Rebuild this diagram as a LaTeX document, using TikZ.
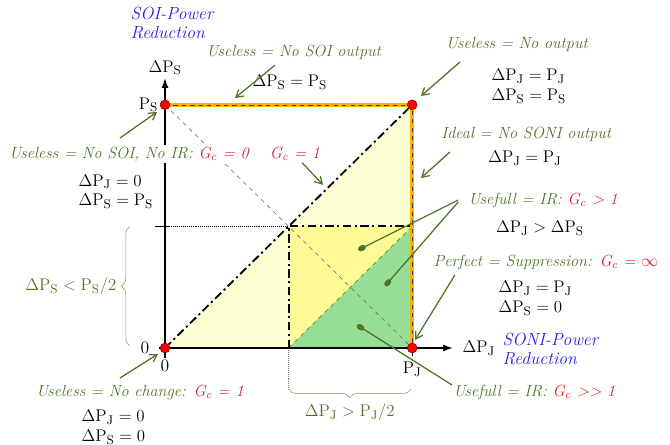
\documentclass[tikz,border=0pt]{standalone}
\usepackage{amsmath}
\usepackage{tikz}
\usetikzlibrary{arrows.meta,positioning,calc,decorations.pathreplacing}

\definecolor{lblgreen}{RGB}{80,115,40}
\definecolor{gcred}{RGB}{215,30,50}
\definecolor{soiblue}{RGB}{40,30,220}
\definecolor{edgeorange}{RGB}{245,180,0}
\definecolor{paleyellow}{RGB}{255,255,212}
\definecolor{midyellow}{RGB}{255,250,150}
\definecolor{irgreen}{RGB}{150,222,150}
\definecolor{bracegray}{RGB}{140,150,115}

\newcommand{\dPJ}{\Delta\mathrm{P}_{\mathrm{J}}}
\newcommand{\dPS}{\Delta\mathrm{P}_{\mathrm{S}}}
\newcommand{\pJ}{\mathrm{P}_{\mathrm{J}}}
\newcommand{\pS}{\mathrm{P}_{\mathrm{S}}}
\newcommand{\Gc}[1]{\textcolor{gcred}{G\textsubscript{c} #1}}

\tikzset{
  note/.style={font=\fontsize{11.5}{14}\selectfont\itshape, text=lblgreen, inner sep=1pt},
  eqn/.style={font=\fontsize{12.5}{14}\selectfont, align=left, inner sep=1pt},
  powerlbl/.style={font=\fontsize{12.5}{13.5}\selectfont\itshape, text=soiblue, align=left, inner sep=1pt},
  rdot/.style={circle, fill=red, draw=red!50!black, inner sep=0pt, minimum size=7pt},
  pointer/.style={-{Straight Barb[length=5pt,width=6pt]}, lblgreen, line width=0.9pt},
  ballline/.style={-{Circle[length=6pt,width=4pt]}, lblgreen, line width=0.9pt},
  dashdot/.style={line width=1.3pt, dash pattern=on 6pt off 2.5pt on 1.5pt off 2.5pt},
  curly/.style={decorate, decoration={brace, amplitude=6pt}, bracegray, thin},
}

\begin{document}
\begin{tikzpicture}[font=\fontsize{12}{14}\selectfont]
    \useasboundingbox (-4.125,-2.425) rectangle (12.625,8.7);
    \def\xJ{6.18}
    \def\yS{6.08}

    % Corners of the square
    \coordinate (O) at (0,0);
    \coordinate (S) at (0,\yS);
    \coordinate (J) at (\xJ,0);
    \coordinate (T) at (\xJ,\yS);
    \coordinate (M) at (\xJ/2,\yS/2);
    \coordinate (Mb) at (\xJ/2,0);
    \coordinate (Mr) at (\xJ,\yS/2);
    \coordinate (Ml) at (0,\yS/2);

    % Regions
    \fill[paleyellow] (O) -- (T) -- (J) -- cycle;
    \fill[midyellow] (Mb) rectangle (Mr);
    \fill[irgreen] (Mb) -- (Mr) -- (J) -- cycle;

    % Guide lines
    \draw[black!60, thin, dashed] (S) -- (J);
    \draw[lblgreen, thin, dashed] (Mb) -- (Mr);
    \draw[densely dotted, thin] (Ml) -- (M);
    \draw[densely dotted, thin, gray] (Mb) -- ++(0,-1.0) coordinate (Mbb);

    % Dash-dot lines
    \draw[dashdot] (O) -- (T);
    \draw[dashdot] (Mb) -- (M) -- (Mr);
    \draw[dashdot] (Mb) -- (J);

    % Orange edges
    \draw[edgeorange, line width=2.6pt] (S) -- (T) -- (J);
    \draw[black!75, thin, dashed] (S) -- (T) -- (J);

    % Axes and ticks
    \draw[line width=1.2pt, -{Latex[length=7pt,width=5pt]}] (0,-0.25) -- (0,6.75) coordinate (ytip);
    \draw[line width=1.2pt, -{Latex[length=7pt,width=5pt]}] (-0.15,0) -- (7.2,0) coordinate (xtip);
    \draw[line width=1pt] (-0.25,\yS/2) -- (0.12,\yS/2);
    \draw[line width=1pt] (J) -- ++(0,-0.2);

    % Points
    \node[rdot] (dO) at (O) {};
    \node[rdot] (dS) at (S) {};
    \node[rdot] (dJ) at (J) {};
    \node[rdot] (dT) at (T) {};

    % Axis labels
    \node[above=1pt, eqn] (ylab) at (ytip) {$\dPS$};
    \node[right=0.2cm, eqn] (xlab) at (xtip) {$\dPJ$};
    \node[left=0pt, eqn] (slab) at (dS.west) {$\pS$};
    \node[below=0.3cm, eqn] (jlab) at (J) {$\pJ$};
    \node[eqn] (zl) at (-0.5,0) {0};
    \node[eqn] (zb) at (0,-0.45) {0};
    \node[powerlbl, anchor=west] (soi) at (-0.9,8.13) {SOI-Power\\Reduction};
    \node[powerlbl, anchor=west] (soni) at (8.4,-0.03) {SONI-Power\\Reduction};

    % Annotations
    \node[note] (nsoi) at (3.22,7.4) {Useless = No SOI output};
    \node[eqn] (esoi) at (3.12,6.65) {$\dPS = \pS$};
    \node[note] (nout) at (8.8,7.6) {Useless = No output};
    \node[eqn, anchor=west] (eout) at (8.125,6.55) {$\dPJ = \pJ$\\$\dPS = \pS$};
    \node[note] (nideal) at (9.03,5.33) {Ideal = No SONI output};
    \node[eqn] (eideal) at (9.0,4.75) {$\dPJ = \pJ$};
    \node[note, anchor=west] (nir) at (7.55,3.7) {Usefull = IR: \Gc{> 1}};
    \node[eqn] (eir) at (9.375,3.0) {$\dPJ > \dPS$};
    \node[note, anchor=west] (nperf) at (6.675,2.15) {Perfect = Suppression: \Gc{= $\infty$}};
    \node[eqn, anchor=west] (eperf) at (8.3,1.25) {$\dPJ = \pJ$\\$\dPS = 0$};
    \node[note, anchor=west] (nirb) at (7.175,-1.1) {Usefull = IR: \Gc{>{}> 1}};
    \node[note] (nchange) at (-0.625,-1.1) {Useless = No change: \Gc{= 1}};
    \node[eqn, anchor=west] (echange) at (-2.125,-1.98) {$\dPJ = 0$\\$\dPS = 0$};
    \node[note, fill=white] (nnoir) at (-0.9,4.85) {Useless = No SOI, No IR: \Gc{= 0}};
    \node[eqn, anchor=west] (enoir) at (-2.2,3.91) {$\dPJ = 0$\\$\dPS = \pS$};
    \node[note] (ngone) at (3.25,4.85) {\Gc{= 1}};

    % Braces
    \draw[curly] (-0.875,0.05) -- (-0.875,\yS/2) coordinate[midway, xshift=-0.3cm] (bsmid);
    \node[eqn, text=lblgreen, anchor=east] (bslab) at (bsmid) {$\dPS < \pS/2$};
    \draw[curly] (6.15,-1.03) -- (3.09,-1.03) coordinate[midway, yshift=-0.3cm] (bjmid);
    \node[eqn, text=lblgreen, below=1pt] (bjlab) at (bjmid) {$\dPJ > \pJ/2$};

    % Pointers
    \coordinate (t1) at (2.75,7.07);   \coordinate (h1) at (1.75,6.25);
    \coordinate (t2) at (7.375,7.15);  \coordinate (h2) at (6.4,6.3);
    \coordinate (t3) at (7.125,4.9);   \coordinate (h3) at (6.4,4.25);
    \coordinate (t4) at (7.33,3.7);    \coordinate (h4) at (4.83,2.45);
    \coordinate (t5) at (7.33,3.65);   \coordinate (h5) at (5.5,1.55);
    \coordinate (t6) at (7.25,1.83);   \coordinate (h6) at (6.25,0.2);
    \coordinate (t7) at (7.175,-0.925);\coordinate (h7) at (4.8,0.575);
    \coordinate (t8) at (-1.125,-0.75);\coordinate (h8) at (-0.175,-0.15);
    \coordinate (t9) at (-1.125,5.25); \coordinate (h9) at (-0.2,5.9);
    \coordinate (t10) at (3.43,4.63);  \coordinate (h10) at (3.95,4.08);
    \foreach \i in {1,2,3,6,8,9,10} {
        \draw[pointer] (t\i) -- (h\i);
    }
    \foreach \i in {4,5,7} {
        \draw[ballline] (t\i) -- (h\i);
    }
\end{tikzpicture}
\end{document}
